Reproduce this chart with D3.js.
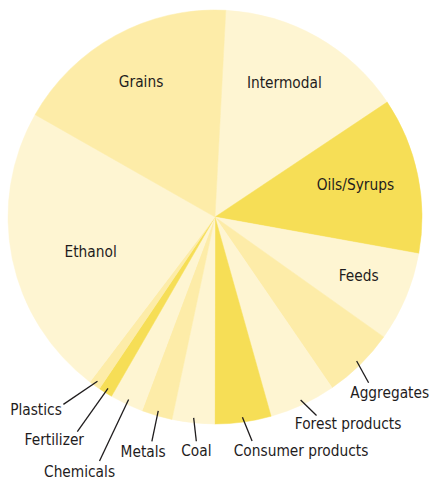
<!DOCTYPE html>
<html>
<head>
<meta charset="utf-8">
<script src="https://cdn.jsdelivr.net/npm/d3@7"></script>
<style>
  html, body { margin: 0; padding: 0; background: #fff; }
  svg text { font-family: 'DejaVu Sans Condensed', 'DejaVu Sans', sans-serif; font-stretch: condensed; fill: #1f1c1d; }
</style>
</head>
<body>
<svg id="chart" width="431" height="482"></svg>
<script>
// ---- data (share of carloads, %) ----
const categories = ['Intermodal', 'Oils/Syrups', 'Feeds', 'Aggregates', 'Forest products',
  'Consumer products', 'Coal', 'Metals', 'Chemicals', 'Fertilizer', 'Plastics', 'Ethanol', 'Grains']
const shares = [14.8, 12.2, 7.0, 5.6, 5.2, 4.4, 3.3, 2.4, 2.6, 1.1, 0.9, 22.9, 17.6]
const shade = ['light', 'strong', 'light', 'mid', 'light', 'strong', 'light', 'mid', 'light', 'strong', 'mid', 'light', 'mid']

const data = categories.map((c, i) => ({ name: c, value: shares[i], shade: shade[i] }))

/* ----------  LAYOUT  ---------- */
const cx = 215
const cy = 217
const radius = 207
const deg = Math.PI / 180

const colors = { light: '#fef5d2', mid: '#fdeca8', strong: '#f6de56' }

// labels drawn inside the slice: radius + small angle nudge (degrees)
const insideLabels = {
  'Intermodal': { r: 151, da: -2.3 },
  'Oils/Syrups': { r: 144, da: -1.1 },
  'Feeds': { r: 155, da: -0.7 },
  'Ethanol': { r: 129, da: -3.8 },
  'Grains': { r: 154, da: 0 }
}

// labels outside: leader end (angle nudge, radius) and text offset from that end
const outsideLabels = {
  'Aggregates': { da: 1.7, end: 226, anchor: 'end', dx: 60.5, dy: 10 },
  'Forest products': { da: -2, end: 223, anchor: 'middle', dx: 31.6, dy: 8 },
  'Consumer products': { da: -1.6, end: 227, anchor: 'middle', dx: 49, dy: 10 },
  'Coal': { da: -1.3, end: 225, anchor: 'middle', dx: 0, dy: 9.3 },
  'Metals': { da: -0.6, end: 233, anchor: 'middle', dx: -8.7, dy: 10 },
  'Chemicals': { da: 0, end: 270, anchor: 'middle', dx: -20, dy: 10.8 },
  'Fertilizer': { da: 0.7, end: 255, anchor: 'middle', dx: -23, dy: 8 },
  'Plastics': { da: 3.4, end: 241, anchor: 'end', dx: -1.6, dy: 5.3 }
}

const svg = d3.select('#chart')
const canvas = svg.append('g').attr('transform', `translate(${cx},${cy})`)

const pie = d3.pie()
  .sort(null)
  .value(d => d.value)
  .startAngle(3 * deg)
  .endAngle(363 * deg)

const arcs = pie(data)

const arc = d3.arc().innerRadius(0).outerRadius(radius)

canvas.selectAll('path.slice')
  .data(arcs)
  .join('path')
  .attr('class', 'slice')
  .attr('d', arc)
  .attr('fill', d => colors[d.data.shade])
  .attr('stroke', d => colors[d.data.shade])
  .attr('stroke-width', 0.5)

const polar = (a, r) => [r * Math.sin(a), -r * Math.cos(a)]
const midAngle = d => (d.startAngle + d.endAngle) / 2

/* ----------  INSIDE LABELS  ---------- */
arcs.filter(d => insideLabels[d.data.name]).forEach(d => {
  const cfg = insideLabels[d.data.name]
  const [x, y] = polar(midAngle(d) + cfg.da * deg, cfg.r)
  canvas.append('text')
    .attr('x', x)
    .attr('y', y)
    .attr('dy', '0.36em')
    .attr('text-anchor', 'middle')
    .style('font-size', '15.3px')
    .text(d.data.name)
})

/* ----------  OUTSIDE LABELS + LEADERS  ---------- */
arcs.filter(d => outsideLabels[d.data.name]).forEach(d => {
  const cfg = outsideLabels[d.data.name]
  const a = midAngle(d)
  const [x1, y1] = polar(a, 202)
  const [x2, y2] = polar(a + cfg.da * deg, cfg.end)
  canvas.append('line')
    .attr('x1', x1).attr('y1', y1)
    .attr('x2', x2).attr('y2', y2)
    .attr('stroke', '#1f1c1d')
    .attr('stroke-width', 1.3)
  canvas.append('text')
    .attr('x', x2 + cfg.dx)
    .attr('y', y2 + cfg.dy)
    .attr('dy', '0.36em')
    .attr('text-anchor', cfg.anchor)
    .style('font-size', '15.3px')
    .text(d.data.name)
})
</script>
</body>
</html>
